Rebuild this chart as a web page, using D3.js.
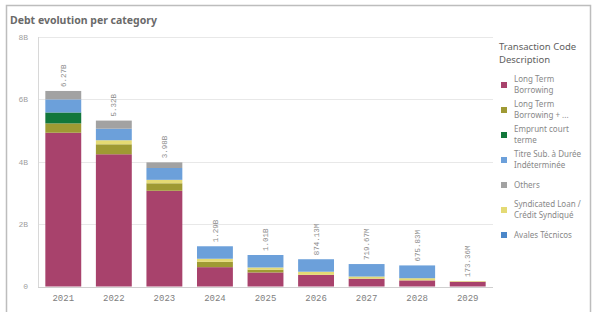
<!DOCTYPE html>
<html>
<head>
<meta charset="utf-8">
<script src="https://cdn.jsdelivr.net/npm/d3@7"></script>
<style>
  body { margin: 0; background: #fff; }
  svg { display: block; }
</style>
</head>
<body>
<div id="chart"></div>
<script>
// values in millions
const years = ["2021", "2022", "2023", "2024", "2025", "2026", "2027", "2028", "2029"];
const categories = [
  "Long Term Borrowing",
  "Long Term Borrowing + ...",
  "Emprunt court terme",
  "Titre Sub. à Durée Indéterminée",
  "Others",
  "Syndicated Loan / Crédit Syndiqué",
  "Avales Técnicos"
];
const legendLines = [
  ["Long Term", "Borrowing"],
  ["Long Term", "Borrowing + ..."],
  ["Emprunt court", "terme"],
  ["Titre Sub. à Durée", "Indéterminée"],
  ["Others"],
  ["Syndicated Loan /", "Crédit Syndiqué"],
  ["Avales Técnicos"]
];
const colors = ["#a8426c", "#9f9a33", "#12773b", "#6ca0da", "#a2a2a2", "#e4da74", "#4b87c9"];

const longTerm     = [4930, 4240, 3070, 620, 450, 374.13, 249.67, 195.83, 153.36];
const longTermPlus = [300, 320, 240, 170, 90, 0, 0, 0, 0];
const emprunt      = [350, 0, 0, 0, 0, 0, 0, 0, 0];
const titreSub     = [420, 370, 380, 400, 400, 400, 400, 410, 0];
const others       = [270, 260, 180, 0, 0, 0, 0, 0, 0];
const syndicated   = [0, 130, 110, 100, 70, 100, 70, 70, 20];
const avales       = [0, 0, 0, 0, 0, 0, 0, 0, 0];

const yTicks = [0, 2000, 4000, 6000, 8000];
const yTickLabels = ["0", "2B", "4B", "6B", "8B"];

const seriesValues = [longTerm, longTermPlus, emprunt, titreSub, others, syndicated, avales];
// stacking order seen in the bars (bottom to top)
const stackOrder = [0, 1, 2, 5, 3, 6, 4];

const W = 597, H = 312;
const svg = d3.select("#chart").append("svg").attr("width", W).attr("height", H);

svg.append("rect")
  .attr("x", 6.5).attr("y", 5.5).attr("width", 584).attr("height", 310)
  .attr("fill", "none").attr("stroke", "#bdbdbd").attr("stroke-width", 1.5);

svg.append("text")
  .attr("x", 10).attr("y", 24)
  .style("font-family", "Noto Sans").style("font-size", "10.5px").style("font-weight", "bold")
  .attr("fill", "#6a6a6a")
  .text("Debt evolution per category");

const x = d3.scaleBand().domain(years).range([38, 493]).paddingInner(0.29).paddingOuter(0.145);
const y = d3.scaleLinear().domain([0, 8000]).range([286.5, 37]);

const table = years.map((yr, i) => {
  const row = { year: yr };
  categories.forEach((c, k) => (row[c] = seriesValues[k][i]));
  return row;
});
const stack = d3.stack().keys(stackOrder.map((k) => categories[k]));
const layers = stack(table);

// grid
svg.append("g").selectAll("line").data(yTicks).join("line")
  .attr("x1", 38).attr("x2", 493)
  .attr("y1", (d) => Math.round(y(d)) + 0.5).attr("y2", (d) => Math.round(y(d)) + 0.5)
  .attr("stroke", (d) => (d === 0 ? "#cfcfcf" : "#e8e8e8"));

svg.append("line")
  .attr("x1", 38.5).attr("x2", 38.5).attr("y1", 37).attr("y2", 287)
  .attr("stroke", "#d8d8d8");

svg.append("g").selectAll("text").data(yTicks).join("text")
  .attr("x", 28).attr("y", (d) => y(d))
  .attr("dy", "0.35em").attr("text-anchor", "end")
  .style("font-family", "Liberation Mono").style("font-size", "8px")
  .attr("fill", "#a0a0a0")
  .text((d, i) => yTickLabels[i]);

// bars
svg.append("g").selectAll("g").data(layers).join("g")
  .attr("fill", (d) => colors[categories.indexOf(d.key)])
  .selectAll("rect").data((d) => d).join("rect")
  .attr("x", (d) => x(d.data.year))
  .attr("width", x.bandwidth())
  .attr("y", (d) => y(d[1]))
  .attr("height", (d) => Math.max(0, y(d[0]) - y(d[1])));

// x labels
svg.append("g").selectAll("text").data(years).join("text")
  .attr("x", (d) => x(d) + x.bandwidth() / 2).attr("y", 298)
  .attr("dy", "0.35em").attr("text-anchor", "middle")
  .style("font-family", "Liberation Mono").style("font-size", "9px")
  .attr("fill", "#808080")
  .text((d) => d);

// totals
const totals = years.map((yr, i) => d3.sum(seriesValues, (s) => s[i]));
const fmt = (v) => (v >= 1000 ? (v / 1000).toFixed(2) + "B" : v.toFixed(2) + "M");
svg.append("g").selectAll("text").data(years).join("text")
  .attr("transform", (d, i) => `translate(${x(d) + x.bandwidth() / 2},${y(totals[i]) - 4}) rotate(-90)`)
  .attr("dy", "0.35em").attr("text-anchor", "start")
  .style("font-family", "Liberation Mono").style("font-size", "7.5px")
  .attr("fill", "#8a8a8a")
  .text((d, i) => fmt(totals[i]));

// legend
const lg = svg.append("g").style("font-family", "Noto Sans");
lg.append("text").attr("x", 499).attr("y", 50)
  .style("font-size", "9.5px").attr("fill", "#606060").text("Transaction Code");
lg.append("text").attr("x", 499).attr("y", 63)
  .style("font-size", "9.5px").attr("fill", "#606060").text("Description");

const items = lg.selectAll("g.item").data(categories).join("g").attr("class", "item")
  .attr("transform", (d, i) => `translate(0,${85 + 25 * i})`);
items.append("rect").attr("x", 501).attr("y", -3).attr("width", 6).attr("height", 6)
  .attr("fill", (d, i) => colors[i]);
items.each(function (d, i) {
  const lines = legendLines[i];
  d3.select(this).selectAll("text").data(lines).join("text")
    .attr("x", 514)
    .attr("y", (t, j) => (j - (lines.length - 1) / 2) * 11)
    .attr("dy", "0.35em")
    .style("font-size", "8px").attr("fill", "#888888")
    .text((t) => t);
});
</script>
</body>
</html>
